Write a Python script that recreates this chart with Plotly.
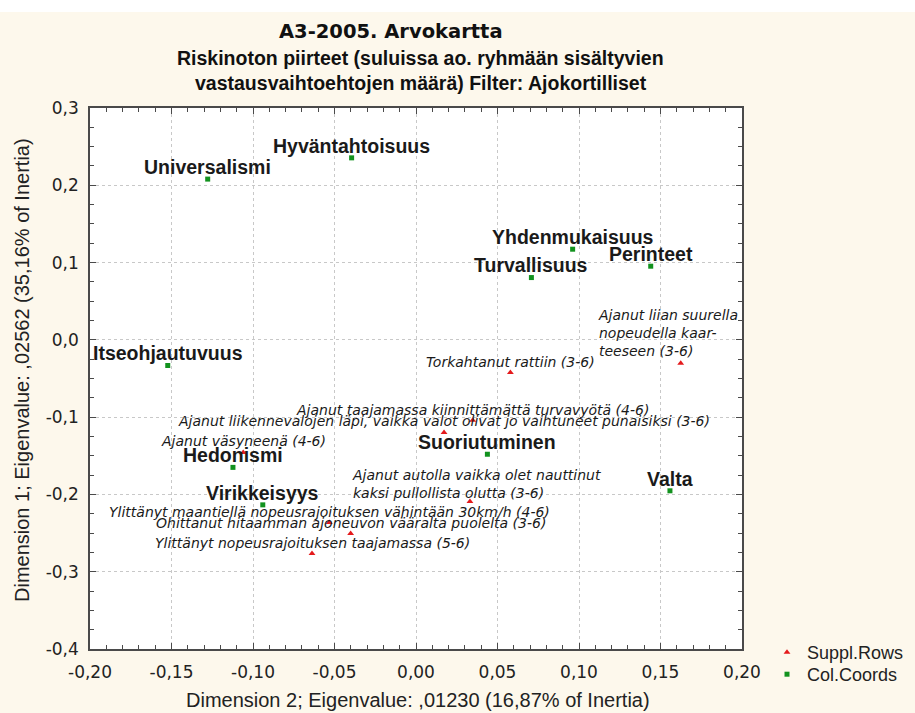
import plotly.graph_objects as go

# ---------------- data ----------------
col_names = ["Universalismi", "Hyväntahtoisuus", "Yhdenmukaisuus", "Perinteet",
             "Turvallisuus", "Itseohjautuvuus", "Suoriutuminen", "Hedonismi",
             "Virikkeisyys", "Valta"]
col_x = [-0.1278, -0.0395, 0.0961, 0.1440, 0.0708, -0.1523, 0.0438, -0.1123, -0.0940, 0.1558]
col_y = [0.2080, 0.2355, 0.1173, 0.0953, 0.0806, -0.0332, -0.1480, -0.1650, -0.2135, -0.1953]

row_names = [
    "Ajanut liian suurella<br>nopeudella kaar-<br>teeseen (3-6)",
    "Torkahtanut rattiin (3-6)",
    "Ajanut taajamassa kiinnittämättä turvavyötä (4-6)",
    "Ajanut liikennevalojen läpi, vaikka valot olivat jo vaihtuneet punaisiksi (3-6)",
    "Ajanut väsyneenä (4-6)",
    "Ajanut autolla vaikka olet nauttinut<br>kaksi pullollista olutta (3-6)",
    "Ylittänyt maantiellä nopeusrajoituksen vähintään 30km/h (4-6)",
    "Ohittanut hitaamman ajoneuvon vääralta puolelta (3-6)",
    "Ylittänyt nopeusrajoituksen taajamassa (5-6)",
]
row_x = [0.1624, 0.0579, 0.0348, 0.0172, -0.1060, 0.0331, -0.0532, -0.0401, -0.0638]
row_y = [-0.0302, -0.0423, -0.1040, -0.1200, -0.1458, -0.2093, -0.2363, -0.2506, -0.2765]

x_tick_vals = [-0.20, -0.15, -0.10, -0.05, 0.00, 0.05, 0.10, 0.15, 0.20]
x_tick_text = ["-0,20", "-0,15", "-0,10", "-0,05", "0,00", "0,05", "0,10", "0,15", "0,20"]
y_tick_vals = [-0.4, -0.3, -0.2, -0.1, 0.0, 0.1, 0.2, 0.3]
y_tick_text = ["-0,4", "-0,3", "-0,2", "-0,1", "0,0", "0,1", "0,2", "0,3"]

title_text = "A3-2005. Arvokartta"
subtitle_lines = ["Riskinoton piirteet (suluissa ao. ryhmään sisältyvien",
                  "vastausvaihtoehtojen määrä) Filter: Ajokortilliset"]
x_title = "Dimension 2; Eigenvalue: ,01230 (16,87% of Inertia)"
y_title = "Dimension 1; Eigenvalue: ,02562 (35,16% of Inertia)"

# label placement (style only): (xanchor, xshift px, yshift px)
row_label_place = [
    ("left", -84, 30.6),
    ("center", 0, 11),
    ("center", 0, 10.5),
    ("center", 0, 11.5),
    ("center", 0, 11.5),
    ("left", -119, 17.4),
    ("center", 0, 10),
    ("center", 0, 10.4),
    ("center", 0, 10.7),
]

# ---------------- figure ----------------
BG = "#FDF8EC"
W, H = 915, 713
ML, MT = 90, 108
MR = W - 742
MB = H - 649
PW, PH = W - ML - MR, H - MT - MB


def fx(page_x):   # page x -> paper x
    return (page_x - ML) / PW


def fy(page_y):   # page y -> paper y
    return (H - MB - page_y) / PH


fig = go.Figure()
fig.add_trace(go.Scatter(x=row_x, y=row_y, mode="markers", name="Suppl.Rows",
                         legend="legend",
                         marker=dict(symbol="triangle-up", size=6, color="#E41A1C",
                                     line=dict(width=0))))
fig.add_trace(go.Scatter(x=col_x, y=col_y, mode="markers", name="Col.Coords",
                         legend="legend2",
                         marker=dict(symbol="square", size=5, color="#12921E",
                                     line=dict(width=0))))

ann = []
for n, x, y in zip(col_names, col_x, col_y):
    ann.append(dict(x=x, y=y, xref="x", yref="y", text=n, showarrow=False,
                    xanchor="center", yanchor="middle", yshift=12.3,
                    font=dict(family="Liberation Sans", size=19.5, color="#1a1a1a",
                              weight="bold")))
for n, x, y, (xa, xs, ys) in zip(row_names, row_x, row_y, row_label_place):
    ann.append(dict(x=x, y=y, xref="x", yref="y", text=n, showarrow=False,
                    xanchor=xa, yanchor="middle", xshift=xs, yshift=ys,
                    align="left", borderpad=0,
                    font=dict(family="DejaVu Sans", size=14, color="#1a1a1a",
                              style="italic")))

# titles
ann.append(dict(x=fx(391), y=fy(31.5), xref="paper", yref="paper", text=title_text,
                showarrow=False, xanchor="center", yanchor="middle",
                font=dict(family="DejaVu Sans", size=19.5, color="#111", weight="bold")))
for i, line in enumerate(subtitle_lines):
    ann.append(dict(x=fx(421), y=fy(58 + 25 * i), xref="paper", yref="paper", text=line,
                    showarrow=False, xanchor="center", yanchor="middle",
                    font=dict(family="Liberation Sans", size=19.5, color="#111",
                              weight="bold")))
ann.append(dict(x=fx(418), y=fy(700), xref="paper", yref="paper", text=x_title,
                showarrow=False, xanchor="center", yanchor="middle",
                font=dict(family="Liberation Sans", size=20, color="#222")))
ann.append(dict(x=fx(22), y=fy(370), xref="paper", yref="paper", text=y_title,
                showarrow=False, xanchor="center", yanchor="middle", textangle=-90,
                font=dict(family="Liberation Sans", size=20, color="#222")))

legend_style = dict(xanchor="left", yanchor="top", bgcolor="rgba(0,0,0,0)",
                    font=dict(family="Liberation Sans", size=18, color="#222"),
                    itemwidth=30, tracegroupgap=0, borderwidth=0)

fig.update_layout(
    width=W, height=H, autosize=False,
    margin=dict(l=ML, r=MR, t=MT, b=MB, pad=0, autoexpand=False),
    paper_bgcolor=BG, plot_bgcolor="white",
    annotations=ann,
    showlegend=True,
    legend=dict(x=fx(767), y=fy(634), **legend_style),
    legend2=dict(x=fx(767), y=fy(656), **legend_style),
    shapes=[dict(type="rect", xref="paper", yref="paper",
                 x0=fx(0), x1=fx(915), y0=fy(12), y1=fy(0),
                 fillcolor="white", line=dict(width=0), layer="above")],
)

axis_common = dict(showline=True, linecolor="#4a4a4a", linewidth=1.5, mirror="ticks",
                   ticks="inside", ticklen=6, tickcolor="#4a4a4a", tickwidth=1,
                   showgrid=True, gridcolor="#C8C8C8", griddash="dot", gridwidth=1,
                   zeroline=False,
                   tickfont=dict(family="DejaVu Sans", size=17, color="#222"))
fig.update_xaxes(range=[-0.2, 0.2], tickvals=x_tick_vals, ticktext=x_tick_text,
                 minor=dict(dtick=0.01, tick0=0, ticks="inside", ticklen=4,
                            tickcolor="#4a4a4a", showgrid=False),
                 ticklabelstandoff=7, automargin=False, **axis_common)
fig.update_yaxes(range=[-0.4, 0.3], tickvals=y_tick_vals, ticktext=y_tick_text,
                 minor=dict(dtick=0.025, tick0=0, ticks="inside", ticklen=4,
                            tickcolor="#4a4a4a", showgrid=False),
                 ticklabelstandoff=6, automargin=False, **axis_common)

page_fix = ("document.body.style.margin='0';"
            "document.body.style.padding='0';"
            "document.body.style.overflow='hidden';")
fig.write_html("out.html", config={"responsive": False, "displayModeBar": False},
               post_script=page_fix)
